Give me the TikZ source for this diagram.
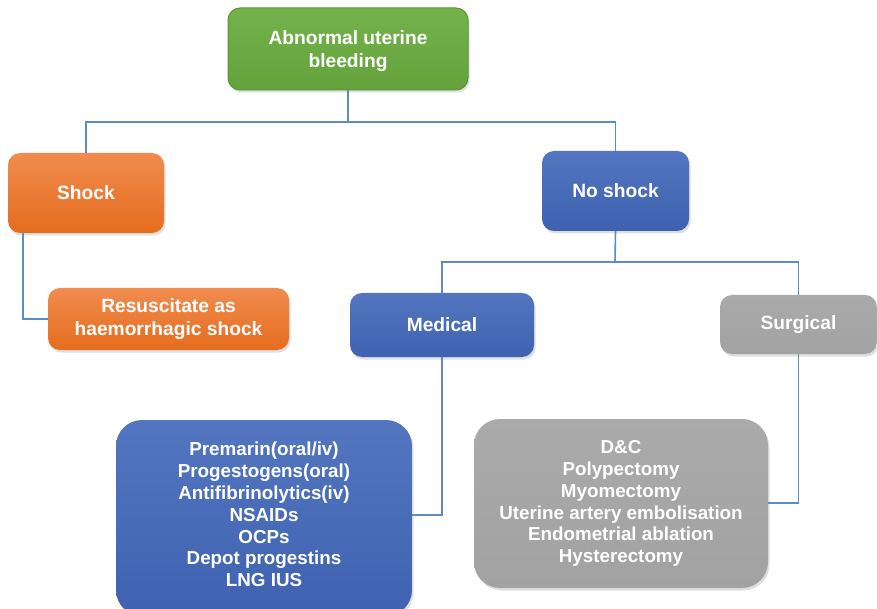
\documentclass[tikz,border=0pt]{standalone}
\usepackage{fontspec}
\setmainfont{Liberation Sans}
\usetikzlibrary{shadows}
\definecolor{linkblue}{RGB}{92,140,200}
\definecolor{grTop}{RGB}{116,178,76}
\definecolor{grBot}{RGB}{100,162,60}
\definecolor{grEdge}{RGB}{88,150,52}
\definecolor{orTop}{RGB}{240,140,78}
\definecolor{orBot}{RGB}{229,108,30}
\definecolor{blTop}{RGB}{84,118,192}
\definecolor{blBot}{RGB}{62,98,176}
\definecolor{gyTop}{RGB}{170,170,170}
\definecolor{gyBot}{RGB}{162,162,162}
\tikzset{
  box/.style={rounded corners=12pt, align=center, text=white,
    font=\fontsize{19.2}{23}\selectfont\bfseries, inner sep=0pt,
    drop shadow={shadow xshift=1.5pt, shadow yshift=-2.5pt, opacity=0.25}},
  greenbox/.style={box, draw=grEdge, line width=1pt, top color=grTop, bottom color=grBot},
  orangebox/.style={box, top color=orTop, bottom color=orBot},
  bluebox/.style={box, top color=blTop, bottom color=blBot},
  graybox/.style={box, top color=gyTop, bottom color=gyBot},
  listbox/.style={rounded corners=26pt, font=\fontsize{18.8}{21.8}\selectfont\bfseries},
  link/.style={draw=linkblue, line width=1.6pt}
}
\begin{document}
\begin{tikzpicture}[x=1pt,y=-1pt]
\useasboundingbox (0,0) rectangle (877,609);
\fill[white] (0,0) rectangle (877,609);

% boxes
\node[greenbox, minimum width=240pt, minimum height=82pt, text depth=-2pt] (abn) at (348,49) {Abnormal uterine\\bleeding};
\node[orangebox, minimum width=156pt, minimum height=80pt] (shock) at (86,193) {Shock};
\node[orangebox, minimum width=241pt, minimum height=62pt] (resus) at (168.5,319) {Resuscitate as\\haemorrhagic shock};
\node[bluebox, minimum width=147pt, minimum height=80pt] (noshock) at (615.5,191) {No shock};
\node[bluebox, minimum width=184pt, minimum height=64pt] (med) at (442,325) {Medical};
\node[graybox, minimum width=157pt, minimum height=59pt] (surg) at (798.5,324.5) {Surgical};
\node[bluebox, listbox, minimum width=296pt, minimum height=196pt, text depth=7pt] (medlist) at (264,518)
  {Premarin(oral/iv)\\Progestogens(oral)\\Antifibrinolytics(iv)\\NSAIDs\\OCPs\\Depot progestins\\LNG IUS};
\node[graybox, listbox, minimum width=294pt, minimum height=169pt] (surglist) at (621,503.5)
  {D\&C\\Polypectomy\\Myomectomy\\Uterine artery embolisation\\Endometrial ablation\\Hysterectomy};

% junction points of the tree
\coordinate (j1) at (348,122);
\coordinate (j2) at (615,262);
\coordinate (s1) at (23,233);
\coordinate (m1) at (442,515);
\coordinate (g1) at (798.5,503);

% connectors
\draw[link] (abn.south) -- (j1);
\draw[link] (j1) -| (shock.north);
\draw[link] (j1) -| (noshock.north);
\draw[link] (s1) |- (resus.west);
\draw[link] (noshock.south) -- (j2);
\draw[link] (j2) -| (med.north);
\draw[link] (j2) -| (surg.north);
\draw[link] (med.south) -- (m1) -- (m1 -| medlist.east);
\draw[link] (surg.south) -- (g1) -- (g1 -| surglist.east);
\end{tikzpicture}
\end{document}
